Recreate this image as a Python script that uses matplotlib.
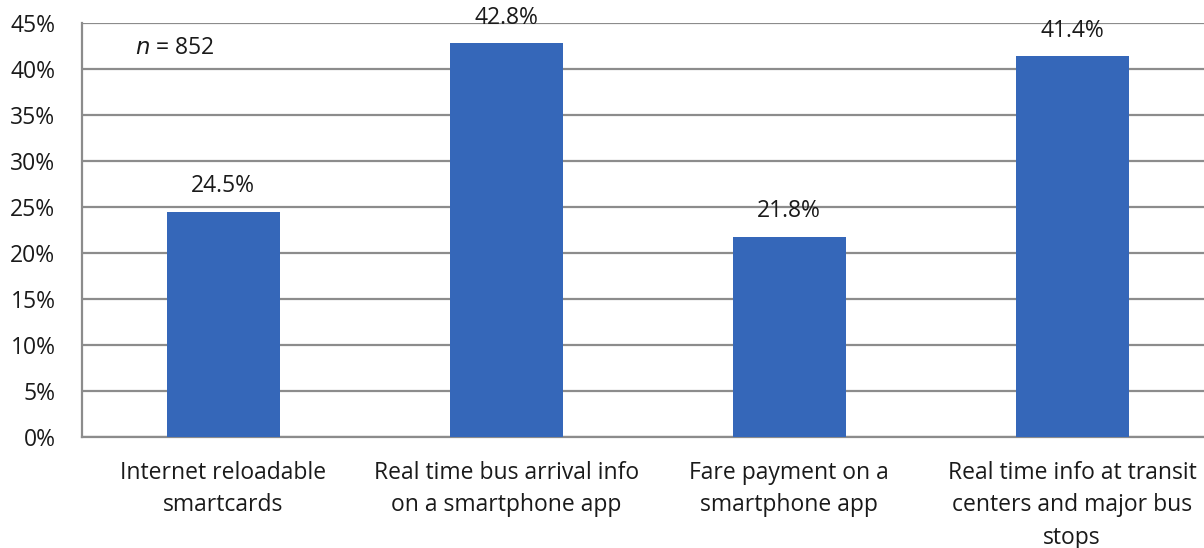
import matplotlib
matplotlib.use("Agg")
import matplotlib.pyplot as plt
from matplotlib.ticker import PercentFormatter, MultipleLocator

categories = [
    "Internet reloadable\nsmartcards",
    "Real time bus arrival info\non a smartphone app",
    "Fare payment on a\nsmartphone app",
    "Real time info at transit\ncenters and major bus\nstops",
]
values = [24.5, 42.8, 21.8, 41.4]
value_labels = ["24.5%", "42.8%", "21.8%", "41.4%"]
sample_note = "852"

plt.rcParams['font.family'] = ['Open Sans', 'DejaVu Sans']
FS = 16.5
GRID = '#8c8c8c'

fig = plt.figure(figsize=(12.04, 5.48), dpi=100)
ax = fig.add_axes([0.068, 0.2026, 0.94, 0.755])

x = list(range(len(categories)))
ax.bar(x, values, width=0.4, color='#3567B9', zorder=3)

for xi, v, lab in zip(x, values, value_labels):
    ax.annotate(lab, (xi, v), xytext=(0, 18.5), textcoords='offset points',
                ha='center', va='center', fontsize=FS, color='#1a1a1a')

ax.set_xlim(-0.5, len(categories) - 0.5)
ax.set_ylim(0, 45)
ax.yaxis.set_major_locator(MultipleLocator(5))
ax.yaxis.set_major_formatter(PercentFormatter(decimals=0))
ax.grid(axis='y', color=GRID, linewidth=1.6, zorder=0)
ax.set_xticks(x)
ax.set_xticklabels(categories, fontsize=FS, linespacing=1.47, color='#1a1a1a')
ax.tick_params(axis='both', length=0, labelsize=FS, colors='#1a1a1a')
ax.tick_params(axis='x', pad=17)
ax.tick_params(axis='y', pad=19)

for side in ['top', 'right']:
    ax.spines[side].set_visible(False)
for side in ['left', 'bottom']:
    ax.spines[side].set_color(GRID)
    ax.spines[side].set_linewidth(1.6)

ax.text(0.047, 0.94, r"$\it{n}$ = " + sample_note, transform=ax.transAxes,
        fontsize=FS, va='center', ha='left', color='#1a1a1a')

fig.savefig("out.png", dpi=100)
